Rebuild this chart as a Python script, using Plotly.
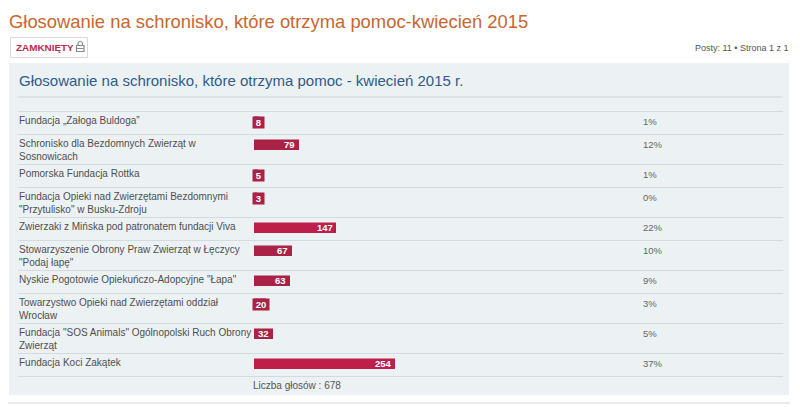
import plotly.graph_objects as go

# poll data
options = [
    "Fundacja „Załoga Buldoga”",
    "Schronisko dla Bezdomnych Zwierząt w<br>Sosnowicach",
    "Pomorska Fundacja Rottka",
    "Fundacja Opieki nad Zwierzętami Bezdomnymi<br>\"Przytulisko\" w Busku-Zdroju",
    "Zwierzaki z Mińska pod patronatem fundacji Viva",
    "Stowarzyszenie Obrony Praw Zwierząt w Łęczycy<br>\"Podaj łapę\"",
    "Nyskie Pogotowie Opiekuńczo-Adopcyjne \"Łapa\"",
    "Towarzystwo Opieki nad Zwierzętami oddział<br>Wrocław",
    "Fundacja \"SOS Animals\" Ogólnopolski Ruch Obrony<br>Zwierząt",
    "Fundacja Koci Zakątek",
]
votes = [8, 79, 5, 3, 147, 67, 63, 20, 32, 254]

page_title = "Głosowanie na schronisko, które otrzyma pomoc-kwiecień 2015"
poll_title = "Głosowanie na schronisko, które otrzyma pomoc - kwiecień 2015 r."
status_label = "ZAMKNIĘTY"
pagination = "Posty: 11 • Strona 1 z 1"

W, H = 800, 407
OFF = 8  # the page body margin pushes the plot 8px right and down
total = sum(votes)
pcts = [round(v * 100 / total) for v in votes]


def px(x):
    # page pixel -> paper coordinate
    return (x - OFF) / W


BAR_X0 = 254          # page pixel where 0 votes sits
PX_PER_VOTE = 140 / 254
FONT = "Liberation Sans"
BAR_COLORS = ["#AA2346", "#BE1E4A", "#D11A4E", "#E41653", "#F5145B"]

# row geometry derived from how many lines each label has
row_tops = []
y = 111.5
for label in options:
    row_tops.append(y)
    y += 30 if "<br>" in label else 23
rows_end = y
bar_y = [t + 10.5 for t in row_tops]
colors = [BAR_COLORS[min(p // 20, 4)] for p in pcts]

fig = go.Figure()
fig.add_trace(go.Bar(
    x=votes, y=bar_y, orientation="h", width=8.5,
    marker=dict(color=colors, line=dict(color=colors, width=2.5)),
    hoverinfo="skip",
))

grey = "#8A8A8A"
shapes = [
    # panel
    dict(type="rect", xref="paper", yref="y", x0=px(9), x1=px(789), y0=63, y1=395,
         fillcolor="#ECF1F3", line=dict(width=0), layer="below"),
    dict(type="line", xref="paper", yref="y", x0=px(18), x1=px(782), y0=97, y1=97,
         line=dict(color="#CCD3D8", width=1), layer="below"),
    dict(type="line", xref="paper", yref="y", x0=px(8), x1=px(790), y0=403, y1=403,
         line=dict(color="#D6D6D6", width=1), layer="below"),
    # closed button
    dict(type="rect", xref="paper", yref="y", x0=px(10.5), x1=px(87.5), y0=37.5, y1=57.5,
         fillcolor="#FFFFFF", line=dict(color="#D9D9D9", width=1), layer="below"),
    # lock icon
    dict(type="rect", xref="paper", yref="y", x0=px(76.5), x1=px(84), y0=45.5, y1=51.5,
         fillcolor="#FFFFFF", line=dict(color=grey, width=1.2)),
    dict(type="path", xref="paper", yref="y",
         path=f"M {px(78)},45.5 L {px(78)},43 Q {px(80.25)},39.5 {px(82.5)},43 L {px(82.5)},45.5",
         line=dict(color=grey, width=1.2)),
    dict(type="line", xref="paper", yref="y", x0=px(77), x1=px(83.5), y0=48.5, y1=48.5,
         line=dict(color=grey, width=1)),
]
for t in row_tops + [rows_end]:
    shapes.append(dict(type="line", xref="paper", yref="y", x0=px(18), x1=px(783), y0=t, y1=t,
                       line=dict(color="#D3DBE1", width=1), layer="below"))

annotations = [
    dict(text=page_title, xref="paper", yref="y", x=px(7), y=21, xanchor="left",
         yanchor="middle", showarrow=False, font=dict(family=FONT, size=18.4, color="#C9662F")),
    dict(text=f"<b>{status_label}</b>", xref="paper", yref="y", x=px(14), y=47.5,
         xanchor="left", yanchor="middle", showarrow=False,
         font=dict(family=FONT, size=9.9, color="#BC2A4D")),
    dict(text=pagination, xref="paper", yref="y", x=px(791), y=47.5, xanchor="right",
         yanchor="middle", showarrow=False, font=dict(family=FONT, size=9, color="#555555")),
    dict(text=poll_title, xref="paper", yref="y", x=px(17), y=80, xanchor="left",
         yanchor="middle", showarrow=False, font=dict(family=FONT, size=15, color="#2F5C8A")),
    dict(text=f"Liczba głosów : {total}", xref="paper", yref="y", x=px(251), y=rows_end + 9,
         xanchor="left", yanchor="middle", showarrow=False,
         font=dict(family=FONT, size=10, color="#555555")),
]

for label, v, p, t, by, c in zip(options, votes, pcts, row_tops, bar_y, colors):
    annotations.append(dict(
        text=label, xref="paper", yref="y", x=px(17), y=t + 1.5, xanchor="left", yanchor="top",
        align="left", showarrow=False, font=dict(family=FONT, size=10, color="#4F4F4F"),
    ))
    annotations.append(dict(
        text=f"{p}%", xref="paper", yref="y", x=px(641), y=t + 9.5, xanchor="left",
        yanchor="middle", showarrow=False, font=dict(family=FONT, size=9.5, color="#666666"),
    ))
    label_w = len(str(v)) * 6 + 6
    fits = v * PX_PER_VOTE + 3 >= label_w
    if fits:
        annotations.append(dict(
            text=f"<b>{v}</b>", xref="x", yref="y", x=v, y=by, xanchor="right",
            yanchor="middle", xshift=-0.5, yshift=1, showarrow=False,
            font=dict(family=FONT, size=9.5, color="#FFFFFF"),
        ))
    else:
        annotations.append(dict(
            text=f"&nbsp;<b>{v}</b>&nbsp;", xref="x", yref="y", x=0, y=by, xanchor="left",
            yanchor="middle", xshift=-2, showarrow=False, bgcolor=c, borderpad=0,
            height=11, valign="middle",
            font=dict(family=FONT, size=9.5, color="#FFFFFF"),
        ))

fig.update_layout(
    width=W, height=H,
    margin=dict(l=0, r=0, t=0, b=0),
    paper_bgcolor="#FFFFFF", plot_bgcolor="rgba(0,0,0,0)",
    showlegend=False, bargap=0,
    xaxis=dict(domain=[(BAR_X0 - OFF) / W, 1],
               range=[0, (W - BAR_X0 + OFF) / PX_PER_VOTE],
               visible=False, fixedrange=True),
    yaxis=dict(domain=[0, 1], range=[H + OFF, OFF], visible=False, fixedrange=True),
    shapes=shapes, annotations=annotations,
)

fig.write_html("out.html", config={"displayModeBar": False})
